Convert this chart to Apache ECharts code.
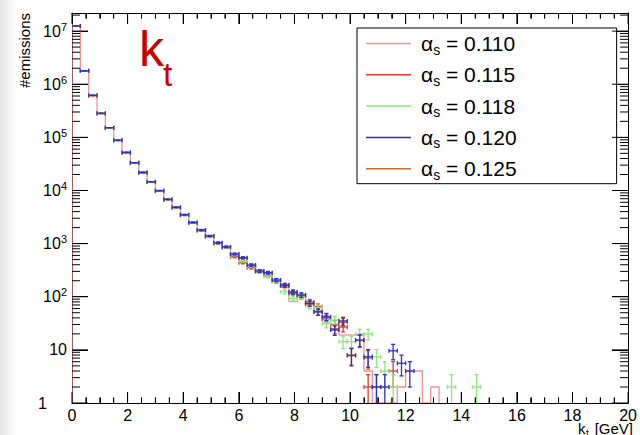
<!DOCTYPE html>
<html>
<head>
<meta charset="utf-8">
<script src="https://cdn.jsdelivr.net/npm/echarts@6/dist/echarts.min.js"></script>
<style>
  html, body { margin: 0; padding: 0; background: #fff; }
  #wrap { position: relative; width: 640px; height: 435px;
    background: linear-gradient(to right, #e4e4e4 0px, #efefef 7px, #fafafa 13px, #ffffff 16px); }
  #chart { position: absolute; left: 0; top: 0; width: 640px; height: 435px; }
</style>
</head>
<body>
<div id="wrap"><div id="chart"></div></div>
<script>
// Histogram binning of the kt spectrum (GeV)
const binLow = 0;
const binWidth = 0.3;

// Axis ranges
const xMin = 0, xMax = 20, xStep = 2, xMinorStep = 0.5;
const yMin = 1, yMax = 2.19e7;
const yDecades = [0, 1, 2, 3, 4, 5, 6, 7];

// Legend labels for the strong-coupling values
const alphaValues = ['0.110', '0.115', '0.118', '0.120', '0.125'];

// Bin contents (#emissions per 0.3 GeV bin), one array per alpha_s
const emis110 = [1.26e7, 1.80e6, 6.20e5, 2.85e5, 1.53e5, 8.9e4, 5.25e4, 3.35e4, 2.20e4, 1.47e4,
                 1.00e4, 6.85e3, 4.85e3, 3.50e3, 2.50e3, 1.80e3, 1.38e3, 1.03e3, 860, 600,
                 480, 370, 290, 250, 200, 150, 81, 100, 70, 55,
                 40, 25, 19, 19, 19, 4, 0, 0, 0, 2,
                 4, 4, 0, 2];
const emis115 = [1.25e7, 1.78e6, 6.10e5, 2.80e5, 1.50e5, 8.7e4, 5.10e4, 3.28e4, 2.15e4, 1.44e4,
                 9.7e3, 6.7e3, 4.7e3, 3.4e3, 2.45e3, 1.75e3, 1.36e3, 1.00e3, 840, 566,
                 437, 352, 300, 245, 195, 160, 115, 100, 80, 65,
                 38, 30, 27, 0, 0, 2, 0, 0, 4];
const emis118 = [1.24e7, 1.80e6, 6.25e5, 2.81e5, 1.50e5, 8.7e4, 5.15e4, 3.30e4, 2.20e4, 1.45e4,
                 9.8e3, 6.75e3, 4.75e3, 3.45e3, 2.48e3, 1.78e3, 1.37e3, 1.02e3, 850, 615,
                 470, 380, 295, 245, 200, 124, 93, 100, 68, 62,
                 31.6, 36.6, 14.3, 14.3, 19.9, 19.9, 7.4, 4, 2, 0,
                 0, 0, 0, 0, 0, 2, 0, 0, 2];
const emis120 = [1.25e7, 1.79e6, 6.17e5, 2.83e5, 1.52e5, 8.8e4, 5.20e4, 3.33e4, 2.19e4, 1.46e4,
                 9.9e3, 6.8e3, 4.82e3, 3.49e3, 2.50e3, 1.80e3, 1.39e3, 1.04e3, 870, 637,
                 542, 395, 305, 283, 206, 166, 123, 108, 75, 52,
                 42, 23.6, 35, 7.8, 15.3, 7.4, 2, 2, 9.6, 5.6,
                 4];
const emis125 = [1.25e7, 1.79e6, 6.15e5, 2.82e5, 1.51e5, 8.8e4, 5.18e4, 3.31e4, 2.18e4, 1.45e4,
                 9.85e3, 6.78e3, 4.8e3, 3.47e3, 2.49e3, 1.79e3, 1.38e3, 1.03e3, 860, 630,
                 530, 390, 300, 275, 204, 164, 120, 106, 74, 52,
                 41, 25, 33, 8, 15, 7, 2];

const seriesKeys = ['a110', 'a115', 'a118', 'a120', 'a125'];
const colors = ['#ef9393', '#e23b32', '#8fe77c', '#2f2fc4', '#cf6d27'];
const FONT = "'Liberation Sans', Arial, Helvetica, sans-serif";

// [bin centre, content (empty bins left blank on the log axis), content of next bin]
function stepRows(vals) {
  return vals.map((v, i) => [binLow + binWidth * (i + 0.5), v > 0 ? v : null,
                             i + 1 < vals.length ? vals[i + 1] : 0]);
}
// [bin centre, content, statistical error]
function errRows(vals) {
  return vals.map((v, i) => [binLow + binWidth * (i + 0.5), v, Math.sqrt(v)])
             .filter(r => r[1] > 0);
}

function yPix(api, x, v) {
  return api.coord([x, v > yMin ? Math.min(v, yMax) : yMin])[1];
}

// Outline histogram
function renderStep(color) {
  return function (params, api) {
    const c = api.value(0), v = api.value(1) || 0, vn = api.value(2);
    const x0 = api.coord([c - binWidth / 2, yMin])[0];
    const x1 = api.coord([c + binWidth / 2, yMin])[0];
    const y = yPix(api, c, v), yn = yPix(api, c, vn);
    const pts = [[x1, yn], [x1, y], [x0, y]];
    if (params.dataIndex === 0) pts.push([x0, yPix(api, c, 0)]);
    return { type: 'polyline', shape: { points: pts },
             style: { stroke: color, lineWidth: 1.3, fill: 'none' } };
  };
}

// Error crosses with end markers
function renderCross(color) {
  return function (params, api) {
    const c = api.value(0), v = api.value(1), e = api.value(2);
    const x0 = api.coord([c - binWidth / 2, yMin])[0];
    const x1 = api.coord([c + binWidth / 2, yMin])[0];
    const xm = (x0 + x1) / 2;
    const y = yPix(api, c, v);
    const yLo = yPix(api, c, v - e), yHi = yPix(api, c, v + e);
    const cap = 2;
    const seg = (ax, ay, bx, by) => ({ type: 'line', shape: { x1: ax, y1: ay, x2: bx, y2: by },
                                       style: { stroke: color, lineWidth: 1.3 } });
    const kids = [
      seg(x0, y, x1, y),
      seg(xm, yLo, xm, yHi),
      seg(x0, y - cap, x0, y + cap),
      seg(x1, y - cap, x1, y + cap),
      seg(xm - cap, yHi, xm + cap, yHi)
    ];
    if (v - e > yMin) kids.push(seg(xm - cap, yLo, xm + cap, yLo));
    return { type: 'group', children: kids };
  };
}

// Frame ticks: [x, y, kind]; kind 0/1 = major/minor on the vertical sides, 2/3 = major/minor on the horizontal sides
const frameTicks = [];
yDecades.forEach(d => {
  frameTicks.push([xMin, Math.pow(10, d), 0]);
  for (let k = 2; k <= 9; k++) { const v = k * Math.pow(10, d); if (v < yMax) frameTicks.push([xMin, v, 1]); }
});
for (let t = xMin; t <= xMax + 1e-9; t += xMinorStep) {
  frameTicks.push([t, yMin, Math.abs(t / xStep - Math.round(t / xStep)) < 1e-9 ? 2 : 3]);
}
function renderFrameTick(params, api) {
  const kind = api.value(2);
  const st = () => ({ stroke: '#000', lineWidth: 1 });
  if (kind < 2) {
    const v = api.value(1), len = kind === 0 ? 16 : 8;
    const pl = api.coord([xMin, v]), pr = api.coord([xMax, v]);
    return { type: 'group', children: [
      { type: 'line', shape: { x1: pl[0], y1: pl[1], x2: pl[0] + len, y2: pl[1] }, style: st() },
      { type: 'line', shape: { x1: pr[0] - len, y1: pr[1], x2: pr[0], y2: pr[1] }, style: st() }
    ] };
  }
  const t = api.value(0), len = kind === 2 ? 11 : 5.5;
  const pb = api.coord([t, yMin]), pt = api.coord([t, yMax]);
  return { type: 'group', children: [
    { type: 'line', shape: { x1: pb[0], y1: pb[1], x2: pb[0], y2: pb[1] - len }, style: st() },
    { type: 'line', shape: { x1: pt[0], y1: pt[1], x2: pt[0], y2: pt[1] + len }, style: st() }
  ] };
}

const series = [
  { name: 'a110', renderItem: renderStep(colors[0]), data: stepRows(emis110), z: 2 },
  { name: 'a125', renderItem: renderCross(colors[4]), data: errRows(emis125), z: 3 },
  { name: 'a115', renderItem: renderCross(colors[1]), data: errRows(emis115), z: 4 },
  { name: 'a118', renderItem: renderCross(colors[2]), data: errRows(emis118), z: 5 },
  { name: 'a120', renderItem: renderCross(colors[3]), data: errRows(emis120), z: 6 }
].map(s => Object.assign(s, {
  type: 'custom', clip: true, silent: true,
  itemStyle: { color: colors[seriesKeys.indexOf(s.name)] }
}));
series.push({ name: 'frameTicks', type: 'custom', renderItem: renderFrameTick, data: frameTicks,
              silent: true, z: 10 });

function yLabel(v) {
  const e = Math.round(Math.log10(v));
  if (Math.abs(Math.log10(v) - e) > 1e-6 || v > yMax) return '';
  if (e === 0) return '{one|1}';
  if (e === 1) return '{b|10}';
  return '{b|10}{sup|' + e + '}';
}

const xAxisBase = {
  type: 'value', min: xMin, max: xMax, interval: xStep,
  axisLine: { show: true, onZero: false, lineStyle: { color: '#000', width: 1 } },
  axisTick: { show: true, inside: true, length: 11, lineStyle: { color: '#000', width: 1 } },
  minorTick: { show: true, splitNumber: 4, length: 5.5, lineStyle: { color: '#000', width: 1 } },
  splitLine: { show: false }, minorSplitLine: { show: false }
};
const yAxisBase = {
  type: 'log', logBase: 10, min: yMin, max: yMax, splitNumber: 8,
  axisLine: { show: true, onZero: false, lineStyle: { color: '#000', width: 1 } },
  axisTick: { show: true, inside: true, length: 16, lineStyle: { color: '#000', width: 1 } },
  splitLine: { show: false }
};

const chart = echarts.init(document.getElementById('chart'), null, { renderer: 'svg' });
chart.setOption({
  animation: false,
  grid: { left: 72, right: 8, top: 13, bottom: 32 },
  xAxis: [
    Object.assign({}, xAxisBase, { position: 'bottom',
      axisLabel: { show: true, fontSize: 16, fontFamily: FONT, color: '#000', margin: 4 } }),
    Object.assign({}, xAxisBase, { position: 'top', axisLabel: { show: false } })
  ],
  yAxis: [
    Object.assign({}, yAxisBase, { position: 'left',
      axisLabel: { show: true, margin: 5, formatter: yLabel, rich: {
        b: { fontSize: 16, fontFamily: FONT, color: '#000' },
        one: { fontSize: 16, fontFamily: FONT, color: '#000', padding: [0, 20, 0, 0] },
        sup: { fontSize: 11, fontFamily: FONT, color: '#000', padding: [0, 0, 9, 0] }
      } } }),
    Object.assign({}, yAxisBase, { position: 'right', axisLabel: { show: false } })
  ],
  legend: {
    data: seriesKeys,
    orient: 'vertical', left: 357, top: 28,
    padding: [5, 100, 2, 9],
    itemWidth: 45, itemHeight: 1.5, itemGap: 7.8, icon: 'rect',
    borderColor: '#000', borderWidth: 1, backgroundColor: '#fff',
    selectedMode: false,
    formatter: n => '{g|\u03b1}{s|s}{t| = ' + alphaValues[seriesKeys.indexOf(n)] + '}',
    textStyle: {
      rich: {
        g: { fontSize: 21, fontFamily: FONT, color: '#000', padding: [0, 0, 0, 5], height: 26 },
        s: { fontSize: 14, fontFamily: FONT, color: '#000', padding: [12, 0, 0, 0], height: 26 },
        t: { fontSize: 21, fontFamily: FONT, color: '#000', height: 26 }
      }
    }
  },
  graphic: [
    { type: 'text', left: 139, top: 24, silent: true,
      style: { text: 'k', font: '50px ' + FONT, fill: '#cc0000' } },
    { type: 'text', left: 163, top: 57, silent: true,
      style: { text: 't', font: '34px ' + FONT, fill: '#cc0000' } },
    { type: 'text', x: 32, y: 13, rotation: Math.PI / 2, silent: true,
      style: { text: '#emissions', font: '15px ' + FONT, fill: '#000', align: 'right', verticalAlign: 'bottom' } },
    { type: 'text', left: 578, top: 421, silent: true,
      style: { text: 'k', font: '15px ' + FONT, fill: '#000' } },
    { type: 'text', left: 586, top: 428, silent: true,
      style: { text: 't', font: '10px ' + FONT, fill: '#000' } },
    { type: 'text', right: 7, top: 421, silent: true,
      style: { text: '[GeV]', font: '15px ' + FONT, fill: '#000' } }
  ],
  series: series
});
</script>
</body>
</html>
